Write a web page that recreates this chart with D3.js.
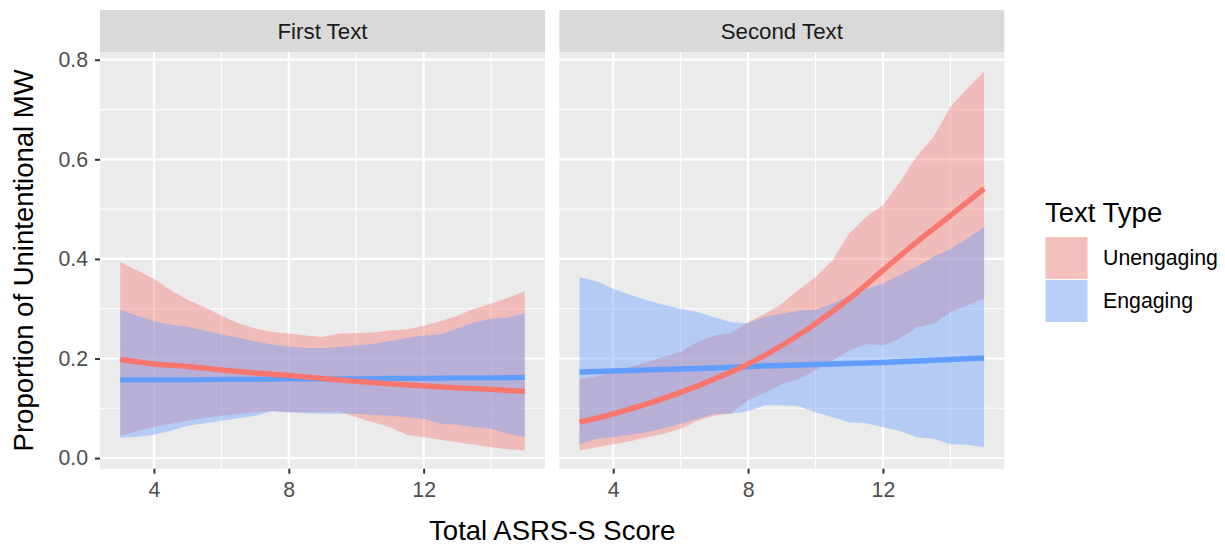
<!DOCTYPE html>
<html>
  <head>
    <meta charset="utf-8">
    <script src="https://d3js.org/d3.v7.min.js"></script>
    <style>
      body { margin: 0; background: #fff; }
      text { font-family: "Liberation Sans", Arial, Helvetica, sans-serif; }
    </style>
  </head>
  <body>
    <script type="text/javascript">

// facets and groups
var panels = ["First Text", "Second Text"];
var groups = ["Unengaging", "Engaging"];
var colors = ["#F8766D", "#619CFF"];

// x positions of the ribbon vertices
var bandX = [3, 3.5, 4, 4.5, 5, 5.5, 6, 6.5, 7, 7.5, 8, 8.5, 9, 9.5, 10, 10.5, 11, 11.5, 12, 12.5, 13, 13.5, 14, 14.5, 15];

// First Text ribbons
var firstUnengHi = [0.394, 0.377, 0.360, 0.337, 0.318, 0.303, 0.286, 0.271, 0.260, 0.253, 0.250, 0.246, 0.243, 0.250, 0.251, 0.252, 0.256, 0.258, 0.266, 0.275, 0.286, 0.300, 0.310, 0.322, 0.335];
var firstUnengLo = [0.045, 0.054, 0.063, 0.069, 0.075, 0.081, 0.085, 0.089, 0.092, 0.095, 0.092, 0.092, 0.092, 0.094, 0.082, 0.072, 0.062, 0.047, 0.042, 0.037, 0.032, 0.027, 0.022, 0.018, 0.015];
var firstEngHi = [0.298, 0.286, 0.275, 0.268, 0.264, 0.256, 0.248, 0.242, 0.234, 0.228, 0.224, 0.221, 0.221, 0.223, 0.226, 0.229, 0.235, 0.241, 0.246, 0.248, 0.260, 0.273, 0.280, 0.282, 0.291];
var firstEngLo = [0.041, 0.043, 0.047, 0.055, 0.065, 0.070, 0.075, 0.080, 0.085, 0.094, 0.092, 0.090, 0.089, 0.089, 0.089, 0.087, 0.085, 0.082, 0.079, 0.069, 0.067, 0.062, 0.059, 0.049, 0.042];

// Second Text ribbons
var secondUnengHi = [0.159, 0.164, 0.173, 0.183, 0.193, 0.203, 0.213, 0.233, 0.246, 0.251, 0.273, 0.290, 0.310, 0.338, 0.363, 0.397, 0.451, 0.484, 0.508, 0.554, 0.606, 0.645, 0.705, 0.742, 0.776];
var secondUnengLo = [0.015, 0.022, 0.028, 0.034, 0.042, 0.049, 0.059, 0.075, 0.085, 0.090, 0.116, 0.132, 0.149, 0.159, 0.176, 0.196, 0.216, 0.229, 0.226, 0.240, 0.263, 0.270, 0.293, 0.307, 0.320];
var secondEngHi = [0.363, 0.355, 0.340, 0.328, 0.317, 0.308, 0.300, 0.293, 0.283, 0.273, 0.271, 0.284, 0.290, 0.296, 0.298, 0.310, 0.327, 0.340, 0.350, 0.367, 0.384, 0.404, 0.420, 0.441, 0.464];
var secondEngLo = [0.028, 0.039, 0.042, 0.047, 0.052, 0.060, 0.069, 0.079, 0.089, 0.089, 0.094, 0.106, 0.106, 0.104, 0.092, 0.082, 0.072, 0.070, 0.062, 0.055, 0.042, 0.039, 0.028, 0.027, 0.022];

// fitted lines
var lineX = [3, 4, 5, 6, 7, 8, 9, 10, 11, 12, 13, 14, 15];
var firstUnengFit = [0.198, 0.189, 0.184, 0.177, 0.171, 0.166, 0.160, 0.154, 0.149, 0.145, 0.141, 0.138, 0.134];
var firstEngFit = [0.157, 0.157, 0.157, 0.158, 0.158, 0.159, 0.159, 0.159, 0.160, 0.160, 0.161, 0.161, 0.162];
var secondUnengFit = [0.072, 0.089, 0.109, 0.132, 0.159, 0.189, 0.226, 0.270, 0.320, 0.377, 0.434, 0.487, 0.541];
var secondEngFit = [0.173, 0.175, 0.177, 0.179, 0.181, 0.184, 0.186, 0.188, 0.190, 0.192, 0.195, 0.198, 0.201];

// axes
var xTicks = [4, 8, 12];
var xMinor = [6, 10, 14];
var yTicks = [0, 0.2, 0.4, 0.6, 0.8];
var yMinor = [0.1, 0.3, 0.5, 0.7];

var w = 1225;
var h = 546;

var bands = [
  [[firstUnengLo, firstUnengHi], [firstEngLo, firstEngHi]],
  [[secondUnengLo, secondUnengHi], [secondEngLo, secondEngHi]]
];
var fits = [
  [firstUnengFit, firstEngFit],
  [secondUnengFit, secondEngFit]
];

var panelLeft = [100, 559.3];
var panelW = 445;
var panelTop = 52;
var panelBottom = 468.7;
var stripTop = 10;

var x = d3.scaleLinear().domain([2.4, 15.6]).range([0, panelW]);
var y = d3.scaleLinear().domain([-0.0213, 0.8155]).range([panelBottom, panelTop]);

var svg = d3.select("body").append("svg")
    .attr("width", w)
    .attr("height", h);

panels.forEach(function(name, p) {
  var g = svg.append("g").attr("transform", "translate(" + panelLeft[p] + ",0)");

  g.append("rect")
    .attr("x", 0).attr("y", panelTop)
    .attr("width", panelW).attr("height", panelBottom - panelTop)
    .style("fill", "#EBEBEB");

  // grid
  g.selectAll("line.ymin").data(yMinor).enter().append("line")
    .attr("x1", 0).attr("x2", panelW)
    .attr("y1", function(d) { return y(d); }).attr("y2", function(d) { return y(d); })
    .style("stroke", "#fff").style("stroke-width", 1.1);
  g.selectAll("line.xmin").data(xMinor).enter().append("line")
    .attr("y1", panelTop).attr("y2", panelBottom)
    .attr("x1", function(d) { return x(d); }).attr("x2", function(d) { return x(d); })
    .style("stroke", "#fff").style("stroke-width", 1.1);
  g.selectAll("line.ymaj").data(yTicks).enter().append("line")
    .attr("x1", 0).attr("x2", panelW)
    .attr("y1", function(d) { return y(d); }).attr("y2", function(d) { return y(d); })
    .style("stroke", "#fff").style("stroke-width", 2.2);
  g.selectAll("line.xmaj").data(xTicks).enter().append("line")
    .attr("y1", panelTop).attr("y2", panelBottom)
    .attr("x1", function(d) { return x(d); }).attr("x2", function(d) { return x(d); })
    .style("stroke", "#fff").style("stroke-width", 2.2);

  // ribbons
  bands[p].forEach(function(b, i) {
    var area = d3.area()
      .x(function(d, j) { return x(bandX[j]); })
      .y0(function(d, j) { return y(b[0][j]); })
      .y1(function(d, j) { return y(b[1][j]); });
    g.append("path")
      .attr("d", area(bandX))
      .style("fill", colors[i])
      .style("fill-opacity", 0.4);
  });

  // fitted lines, red on top
  [1, 0].forEach(function(i) {
    var line = d3.line()
      .x(function(d, j) { return x(lineX[j]); })
      .y(function(d) { return y(d); })
      .curve(d3.curveMonotoneX);
    g.append("path")
      .attr("d", line(fits[p][i]))
      .style("fill", "none")
      .style("stroke", colors[i])
      .style("stroke-width", 5.4);
  });

  // strip
  g.append("rect")
    .attr("x", 0).attr("y", stripTop)
    .attr("width", panelW).attr("height", panelTop - stripTop)
    .style("fill", "#D9D9D9");
  g.append("text")
    .attr("x", panelW / 2).attr("y", 38.5)
    .attr("text-anchor", "middle")
    .style("font-size", "22.3px")
    .style("fill", "#1A1A1A")
    .text(name);

  // x axis
  var xa = g.append("g")
    .attr("transform", "translate(0," + panelBottom + ")")
    .call(d3.axisBottom(x).tickValues(xTicks).tickSize(5).tickPadding(8).tickFormat(d3.format("d")));
  xa.select(".domain").remove();
  xa.selectAll("line").style("stroke", "#333").style("stroke-width", 2);
  xa.selectAll("text").style("font-size", "21.3px").style("fill", "#4D4D4D")
    .style("font-family", "'Liberation Sans', Arial, sans-serif");
});

// y axis
var ya = svg.append("g")
  .attr("transform", "translate(" + panelLeft[0] + ",0)")
  .call(d3.axisLeft(y).tickValues(yTicks).tickSize(5).tickPadding(7).tickFormat(d3.format(".1f")));
ya.select(".domain").remove();
ya.selectAll("line").style("stroke", "#333").style("stroke-width", 2);
ya.selectAll("text").style("font-size", "21.3px").style("fill", "#4D4D4D")
  .style("font-family", "'Liberation Sans', Arial, sans-serif");

// axis titles
svg.append("text")
  .attr("x", (panelLeft[0] + panelLeft[1] + panelW) / 2).attr("y", 540)
  .attr("text-anchor", "middle")
  .style("font-size", "27.5px")
  .style("fill", "#000")
  .text("Total ASRS-S Score");

svg.append("text")
  .attr("transform", "translate(33," + (panelTop + panelBottom) / 2 + ") rotate(-90)")
  .attr("text-anchor", "middle")
  .style("font-size", "27.5px")
  .style("fill", "#000")
  .text("Proportion of Unintentional MW");

// legend
var legend = svg.append("g").attr("transform", "translate(1045,0)");
legend.append("text")
  .attr("x", 0).attr("y", 221.5)
  .style("font-size", "27.5px")
  .style("fill", "#000")
  .text("Text Type");

groups.forEach(function(name, i) {
  var ky = 236.5 + i * 43;
  legend.append("rect")
    .attr("x", 0).attr("y", ky)
    .attr("width", 43).attr("height", 43)
    .style("fill", "#F2F2F2")
    .style("stroke", "#fff")
    .style("stroke-width", 1);
  legend.append("rect")
    .attr("x", 0.5).attr("y", ky + 0.5)
    .attr("width", 42).attr("height", 42)
    .style("fill", colors[i])
    .style("fill-opacity", 0.4);
  legend.append("text")
    .attr("x", 58).attr("y", ky + 21.5)
    .attr("dy", "0.35em")
    .style("font-size", "21.3px")
    .style("fill", "#000")
    .text(name);
});

    </script>
  </body>
</html>
